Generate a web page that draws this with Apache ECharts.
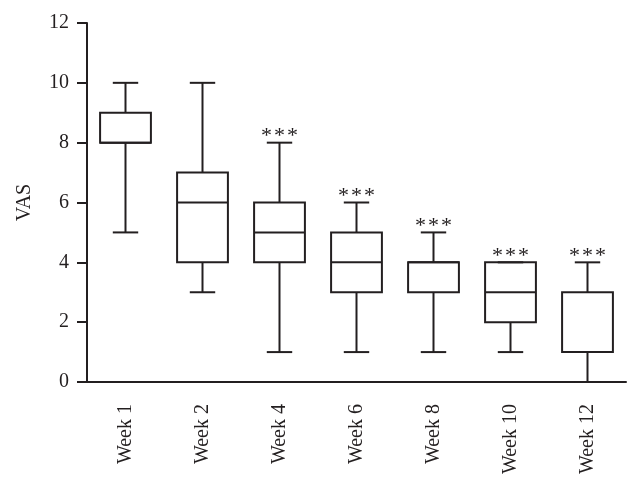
<!DOCTYPE html>
<html><head><meta charset="utf-8">
<script src="https://cdn.jsdelivr.net/npm/echarts@6/dist/echarts.min.js"></script>
<style>html,body{margin:0;padding:0;background:#fff}#c{width:640px;height:490px}</style>
</head><body><div id="c"></div>
<script>
const categories = ['Week 1','Week 2','Week 4','Week 6','Week 8','Week 10','Week 12'];
const mins    = [5, 3, 1, 1, 1, 1, 0];
const q1s     = [8, 4, 4, 3, 3, 2, 1];
const medians = [8, 6, 5, 4, 4, 3, 1];
const q3s     = [9, 7, 6, 5, 4, 4, 3];
const maxs    = [10, 10, 8, 6, 5, 4, 4];
const sigMarks = ['', '', '***', '***', '***', '***', '***'];
const yTicks = [0, 2, 4, 6, 8, 10, 12];

const FONT = 'Liberation Serif';
const INK = '#231f20';
const data = categories.map((c, i) => [i, mins[i], q1s[i], medians[i], q3s[i], maxs[i]]);

function renderItem(params, api) {
  const i = api.value(0);
  const band = api.size([1, 0])[0];
  const boxW = band * 0.66;
  const capW = band * 0.33;
  const pMin = api.coord([i, api.value(1)]);
  const pQ1 = api.coord([i, api.value(2)]);
  const pMed = api.coord([i, api.value(3)]);
  const pQ3 = api.coord([i, api.value(4)]);
  const pMax = api.coord([i, api.value(5)]);
  const x = pQ1[0];
  const st = { stroke: INK, lineWidth: 2, fill: null };
  const children = [
    { type: 'rect', shape: { x: x - boxW / 2, y: pQ3[1], width: boxW, height: pQ1[1] - pQ3[1] }, style: { stroke: INK, lineWidth: 2, fill: '#fff' } },
    { type: 'line', shape: { x1: x - boxW / 2, y1: pMed[1], x2: x + boxW / 2, y2: pMed[1] }, style: st },
    { type: 'line', shape: { x1: x, y1: pQ3[1], x2: x, y2: pMax[1] }, style: st },
    { type: 'line', shape: { x1: x, y1: pQ1[1], x2: x, y2: pMin[1] }, style: st },
    { type: 'line', shape: { x1: x - capW / 2, y1: pMax[1], x2: x + capW / 2, y2: pMax[1] }, style: st },
    { type: 'line', shape: { x1: x - capW / 2, y1: pMin[1], x2: x + capW / 2, y2: pMin[1] }, style: st }
  ];
  const s = sigMarks[i];
  if (s) {
    const n = s.length;
    for (let k = 0; k < n; k++) {
      const dx = (k - (n - 1) / 2) * 13;
      children.push({ type: 'text', style: { text: s[k], x: x + dx, y: pMax[1] + 5, align: 'center', verticalAlign: 'bottom', font: '22px "' + FONT + '"', fill: INK } });
    }
  }
  return { type: 'group', children: children };
}

const chart = echarts.init(document.getElementById('c'), null, { renderer: 'canvas' });
chart.setOption({
  animation: false,
  backgroundColor: '#fff',
  grid: { left: 87, right: 14, top: 23, bottom: 108, containLabel: false },
  xAxis: {
    type: 'category', data: categories, boundaryGap: true,
    axisLine: { lineStyle: { color: INK, width: 2 } },
    axisTick: { alignWithLabel: true, length: 10, lineStyle: { color: INK, width: 2 } },
    axisLabel: { rotate: 90, color: INK, fontFamily: FONT, fontSize: 20, margin: 22 },
    splitLine: { show: false }
  },
  yAxis: {
    type: 'value', min: 0, max: 12, interval: 2,
    name: 'VAS', nameLocation: 'middle', nameGap: 52, nameRotate: 90,
    nameTextStyle: { color: INK, fontFamily: FONT, fontSize: 20 },
    axisLine: { show: true, lineStyle: { color: INK, width: 2 } },
    axisTick: { show: true, length: 10, lineStyle: { color: INK, width: 2 } },
    axisLabel: { color: INK, fontFamily: FONT, fontSize: 20, margin: 18, formatter: v => yTicks.includes(v) ? String(v) : '' },
    splitLine: { show: false }
  },
  series: [{ type: 'custom', renderItem: renderItem, data: data, encode: { x: 0, y: [1, 2, 3, 4, 5] }, clip: false }]
});
</script></body></html>
